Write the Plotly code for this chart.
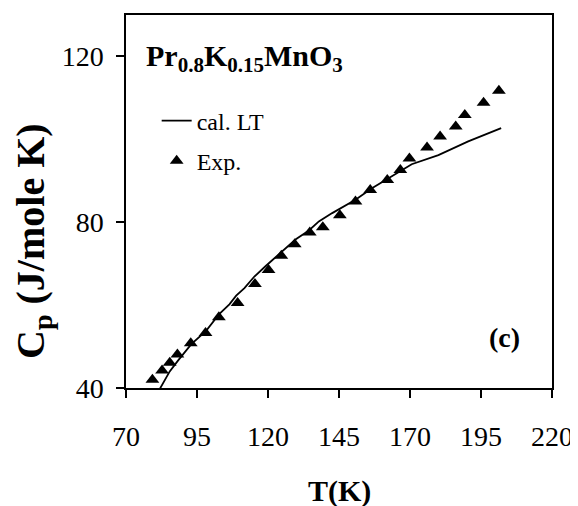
import plotly.graph_objects as go

# Experimental data (triangles)
exp_T = [79.3, 82.7, 85.4, 88.1, 92.8, 98.0, 102.7, 109.3, 115.4, 120.2, 124.7, 129.4, 134.7,
         139.3, 145.3, 150.8, 156.0, 162.0, 166.6, 169.8, 176.0, 180.6, 186.1, 189.3, 195.9, 201.3]
exp_Cp = [42.0, 44.2, 46.1, 48.1, 50.8, 53.3, 57.1, 60.5, 65.1, 68.5, 71.9, 74.7, 77.5,
          78.8, 81.7, 85.0, 87.8, 90.2, 92.6, 95.4, 98.0, 100.7, 103.1, 105.9, 108.8, 111.7]

# Calculated curve (cal. LT)
cal_T = [81.1, 85.4, 88.3, 93.0, 98.2, 102.9, 106.4, 108.8, 111.7, 115.2, 119.3, 125.1, 129.8,
         134.4, 137.9, 142.6, 147.3, 150.8, 156.6, 162.4, 167.1, 170.6, 180.0, 190.5, 202.1]
cal_Cp = [38.8, 44.0, 46.6, 50.6, 53.8, 57.9, 60.2, 62.3, 64.1, 66.9, 69.5, 73.1, 75.9,
          78.0, 80.2, 82.2, 84.1, 85.4, 88.2, 90.6, 92.6, 94.0, 96.2, 99.5, 102.7]

x_ticks = [70, 95, 120, 145, 170, 195, 220]
y_ticks = [40, 80, 120]

FONT = "Liberation Serif"

fig = go.Figure()
fig.add_trace(go.Scatter(x=cal_T, y=cal_Cp, mode="lines", name="cal. LT",
                         line=dict(color="black", width=1.8), legendgroup="a"))
fig.add_trace(go.Scatter(x=exp_T, y=exp_Cp, mode="markers", name="Exp.",
                         marker=dict(symbol="triangle-up", size=12, color="black"),
                         legendgroup="b"))

fig.update_layout(
    width=570, height=498,
    margin=dict(l=118, r=24, t=5, b=118),
    paper_bgcolor="white", plot_bgcolor="white",
    font=dict(family=FONT, color="black", size=28),
    showlegend=True,
    legend=dict(x=0.072, y=0.776, xanchor="left", yanchor="top",
                bgcolor="rgba(0,0,0,0)", borderwidth=0,
                font=dict(family=FONT, size=24, color="black"),
                tracegroupgap=6),
    xaxis=dict(range=[70, 220], tickvals=x_ticks, ticks="outside", ticklen=8,
               tickwidth=1.5, tickcolor="black", showline=True, linecolor="black",
               linewidth=1.5, mirror=True, showgrid=False, zeroline=False,
               ticklabelstandoff=15, tickfont=dict(size=28)),
    yaxis=dict(range=[40, 130], tickvals=y_ticks, ticks="outside", ticklen=8,
               tickwidth=1.5, tickcolor="black", showline=True, linecolor="black",
               linewidth=1.5, mirror=True, showgrid=False, zeroline=False,
               ticklabelstandoff=7, tickfont=dict(size=28)),
    annotations=[
        dict(text="<b>T(K)</b>", xref="paper", yref="paper", x=0.5, y=-0.277,
             xanchor="center", yanchor="middle", showarrow=False,
             font=dict(size=30, family=FONT)),
        dict(text="<b>C<sub>p</sub> (J/mole K)</b>", xref="paper", yref="paper",
             x=-0.22, y=0.395, xanchor="center", yanchor="middle", textangle=-90,
             showarrow=False, font=dict(size=40, family=FONT)),
        dict(text="<b>Pr<sub>0.8</sub>K<sub>0.15</sub>MnO<sub>3</sub></b>", xref="paper",
             yref="paper", x=0.042, y=0.886, xanchor="left", yanchor="middle",
             showarrow=False, font=dict(size=30, family=FONT)),
        dict(text="<b>(c)</b>", xref="paper", yref="paper", x=0.888, y=0.136,
             xanchor="center", yanchor="middle", showarrow=False,
             font=dict(size=28, family=FONT)),
    ],
)

fig.write_html("out.html")
